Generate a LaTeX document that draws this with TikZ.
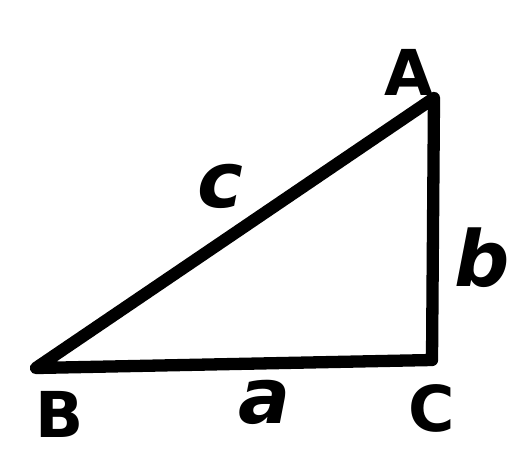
\documentclass[tikz,border=0pt]{standalone}
\usepackage{fontspec}
\usepackage{tikz}
\usetikzlibrary{calc}
\newfontfamily\labelfont{DejaVu Sans}

\begin{document}
\begin{tikzpicture}[x=0.02cm,y=-0.02cm,
    vertex/.style={font=\labelfont\bfseries\fontsize{36}{38}\selectfont, inner sep=0pt},
    side/.style={font=\labelfont\bfseries\itshape\fontsize{44}{46}\selectfont, inner sep=0pt}]
    \useasboundingbox (0,0) rectangle (518,457);
    \coordinate (B) at (36,368);
    \coordinate (C) at (432,360);
    \coordinate (A) at (434,98);
    \draw[line width=7pt, line join=round, line cap=round] (B) -- (C) -- (A) -- cycle;
    \node[vertex] (labA) at (409,72) {A};
    \node[vertex] (labB) at (60,414) {B};
    \node[vertex] (labC) at (432,408) {C};
    \node[side] (laba) at (265,402) {a};
    \node[side] (labb) at (482,258) {b};
    \node[side] (labc) at (220,186) {c};
\end{tikzpicture}
\end{document}
